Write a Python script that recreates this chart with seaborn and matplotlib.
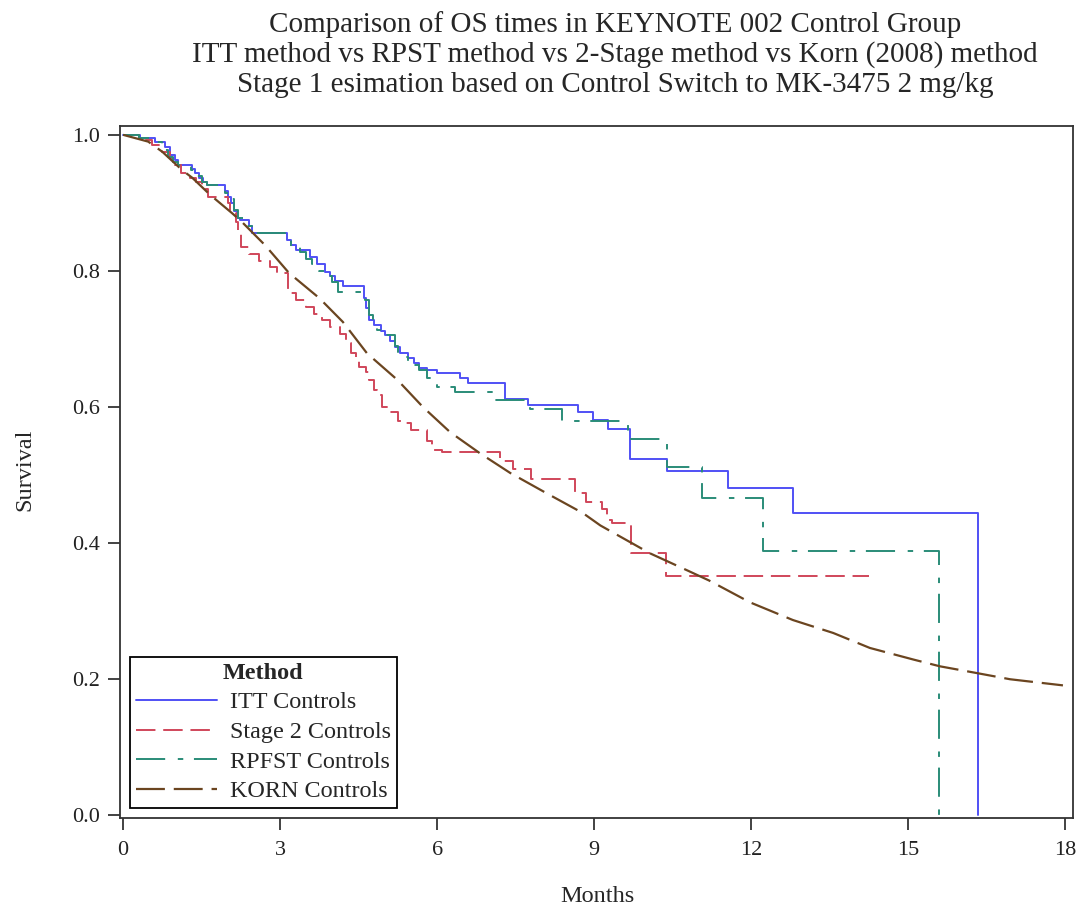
import matplotlib
matplotlib.use("Agg")
import matplotlib.pyplot as plt
import seaborn as sns

# months / survival
itt_t = [0, 0.32, 0.6, 0.8, 0.9, 1.0, 1.05, 1.32, 1.38, 1.45, 1.52, 1.6, 1.95, 2.0, 2.07, 2.12,
         2.18, 2.24, 2.4, 2.47, 3.13, 3.2, 3.3, 3.57, 3.7, 3.85, 3.95, 4.05, 4.2, 4.6, 4.65, 4.7,
         4.8, 4.92, 5.0, 5.1, 5.2, 5.3, 5.45, 5.55, 5.65, 5.8, 6.0, 6.44, 6.6, 7.3, 7.74, 8.7,
         8.98, 9.27, 9.69, 10.4, 11.56, 12.8, 16.34]
itt_s = [1.0, 0.995, 0.99, 0.982, 0.97, 0.963, 0.956, 0.95, 0.944, 0.937, 0.93, 0.926, 0.917,
         0.909, 0.9, 0.888, 0.878, 0.875, 0.866, 0.856, 0.845, 0.838, 0.831, 0.82, 0.81, 0.799,
         0.792, 0.785, 0.778, 0.76, 0.745, 0.728, 0.72, 0.712, 0.706, 0.697, 0.688, 0.68, 0.672,
         0.665, 0.658, 0.654, 0.65, 0.643, 0.635, 0.612, 0.603, 0.593, 0.581, 0.568, 0.524,
         0.506, 0.481, 0.444, 0.0]

st2_t = [0, 0.3, 0.55, 0.75, 0.9, 1.0, 1.1, 1.28, 1.4, 1.5, 1.62, 2.0, 2.05, 2.15, 2.2, 2.25,
         2.4, 2.6, 2.8, 2.95, 3.15, 3.3, 3.5, 3.65, 3.8, 3.95, 4.15, 4.25, 4.35, 4.45, 4.5, 4.65,
         4.7, 4.8, 4.85, 4.95, 5.1, 5.25, 5.4, 5.5, 5.8, 5.9, 6.1, 7.2, 7.45, 7.8, 8.64, 8.85,
         9.15, 9.25, 9.35, 9.7, 10.38, 14.25]
st2_s = [1.0, 0.993, 0.985, 0.975, 0.966, 0.956, 0.944, 0.937, 0.93, 0.92, 0.909, 0.9, 0.885,
         0.872, 0.855, 0.835, 0.825, 0.815, 0.806, 0.797, 0.768, 0.757, 0.747, 0.737, 0.728,
         0.717, 0.707, 0.694, 0.679, 0.674, 0.659, 0.652, 0.64, 0.625, 0.618, 0.6, 0.593, 0.58,
         0.576, 0.566, 0.55, 0.537, 0.534, 0.52, 0.509, 0.494, 0.473, 0.46, 0.45, 0.434, 0.429,
         0.385, 0.351, 0.351]

rp_t = [0, 0.3, 0.55, 0.75, 0.85, 0.95, 1.05, 1.3, 1.4, 1.5, 1.6, 1.95, 2.05, 2.12, 2.2, 2.35,
        2.47, 3.1, 3.2, 3.38, 3.5, 3.6, 3.75, 3.85, 4.0, 4.1, 4.63, 4.7, 4.78, 4.85, 4.95, 5.2,
        5.25, 5.45, 5.65, 5.8, 6.0, 6.35, 7.1, 7.78, 8.39, 9.65, 10.4, 11.06, 12.23, 15.6]
rp_s = [1.0, 0.995, 0.99, 0.978, 0.968, 0.96, 0.956, 0.948, 0.94, 0.93, 0.926, 0.915, 0.905,
        0.89, 0.878, 0.866, 0.856, 0.846, 0.835, 0.828, 0.818, 0.81, 0.8, 0.792, 0.784, 0.769,
        0.757, 0.735, 0.72, 0.713, 0.706, 0.69, 0.674, 0.662, 0.654, 0.643, 0.629, 0.622, 0.61,
        0.597, 0.579, 0.553, 0.512, 0.466, 0.388, 0.0]

korn_t = [0, 0.48, 0.75, 1.13, 1.32, 1.66, 2.08, 2.27, 2.71, 3.17, 3.75, 4.2, 4.66, 5.24, 5.73,
          6.25, 6.82, 7.4, 8.1, 8.79, 9.12, 10.07, 10.78, 11.2, 11.98, 12.8, 13.57, 14.27, 15.1,
          15.61, 16.32, 16.95, 17.96]
korn_s = [1.0, 0.99, 0.975, 0.948, 0.937, 0.912, 0.885, 0.872, 0.838, 0.797, 0.76, 0.725, 0.679,
          0.64, 0.6, 0.563, 0.532, 0.503, 0.473, 0.444, 0.426, 0.385, 0.36, 0.345, 0.313, 0.287,
          0.268, 0.246, 0.229, 0.219, 0.209, 0.2, 0.191]

title_lines = ["Comparison of OS times in KEYNOTE 002 Control Group",
               "ITT method vs RPST method vs 2-Stage method vs Korn (2008) method",
               "Stage 1 esimation based on Control Switch to MK-3475 2 mg/kg"]

sns.set_style("ticks")
plt.rcParams["font.family"] = ["Liberation Serif", "DejaVu Serif"]

fig = plt.figure(figsize=(10.81, 9.11), dpi=100)
ax = fig.add_axes([0.111, 0.102, 0.8815, 0.7597])

sns.lineplot(x=itt_t, y=itt_s, ax=ax, estimator=None, sort=False, drawstyle="steps-post",
             color="#5050f5", lw=1.4, label="ITT Controls")
sns.lineplot(x=st2_t, y=st2_s, ax=ax, estimator=None, sort=False, drawstyle="steps-post",
             color="#d0465a", lw=1.4, linestyle=(0, (10, 4)), label="Stage 2 Controls")
sns.lineplot(x=rp_t, y=rp_s, ax=ax, estimator=None, sort=False, drawstyle="steps-post",
             color="#2a8c78", lw=1.4, linestyle=(0, (15, 6.5, 2.8, 5.5)), label="RPFST Controls")
sns.lineplot(x=korn_t, y=korn_s, ax=ax, estimator=None, sort=False,
             color="#6b4520", lw=1.6, linestyle=(0, (13, 4)), label="KORN Controls")

ax.set_xlim(-0.06, 18.15)
ax.set_ylim(-0.004, 1.013)
ax.set_xticks([0, 3, 6, 9, 12, 15, 18])
ax.set_yticks([0.0, 0.2, 0.4, 0.6, 0.8, 1.0])
ax.set_yticklabels(["0.0", "0.2", "0.4", "0.6", "0.8", "1.0"])
ax.tick_params(labelsize=16, length=8.5, width=1.2, direction="out", colors="#222222")
ax.tick_params(axis="x", pad=8)
ax.tick_params(axis="y", pad=6)
for sp in ax.spines.values():
    sp.set_linewidth(1.3)
    sp.set_color("#333333")
ax.set_xlabel("")
ax.set_ylabel("")

leg = ax.legend(title="Method", loc="lower left", fontsize=17.4, title_fontsize=17.4,
                handlelength=3.35, handletextpad=0.55, labelspacing=0.32, borderpad=0.25,
                borderaxespad=0.4, fancybox=False, framealpha=1, edgecolor="black")
leg.get_title().set_fontweight("bold")
leg.get_frame().set_linewidth(1.3)

for i, line in enumerate(title_lines):
    fig.text(0.569, 1 - (32 + 30 * i) / 911, line, ha="center", va="baseline", fontsize=21)
fig.text(597 / 1081, 1 - 897 / 911, "Months", ha="center", va="center", fontsize=17.5)
fig.text(25 / 1081, 1 - 470 / 911, "Survival", ha="center", va="center", fontsize=17.5,
         rotation=90)

fig.savefig("out.png", dpi=100)
